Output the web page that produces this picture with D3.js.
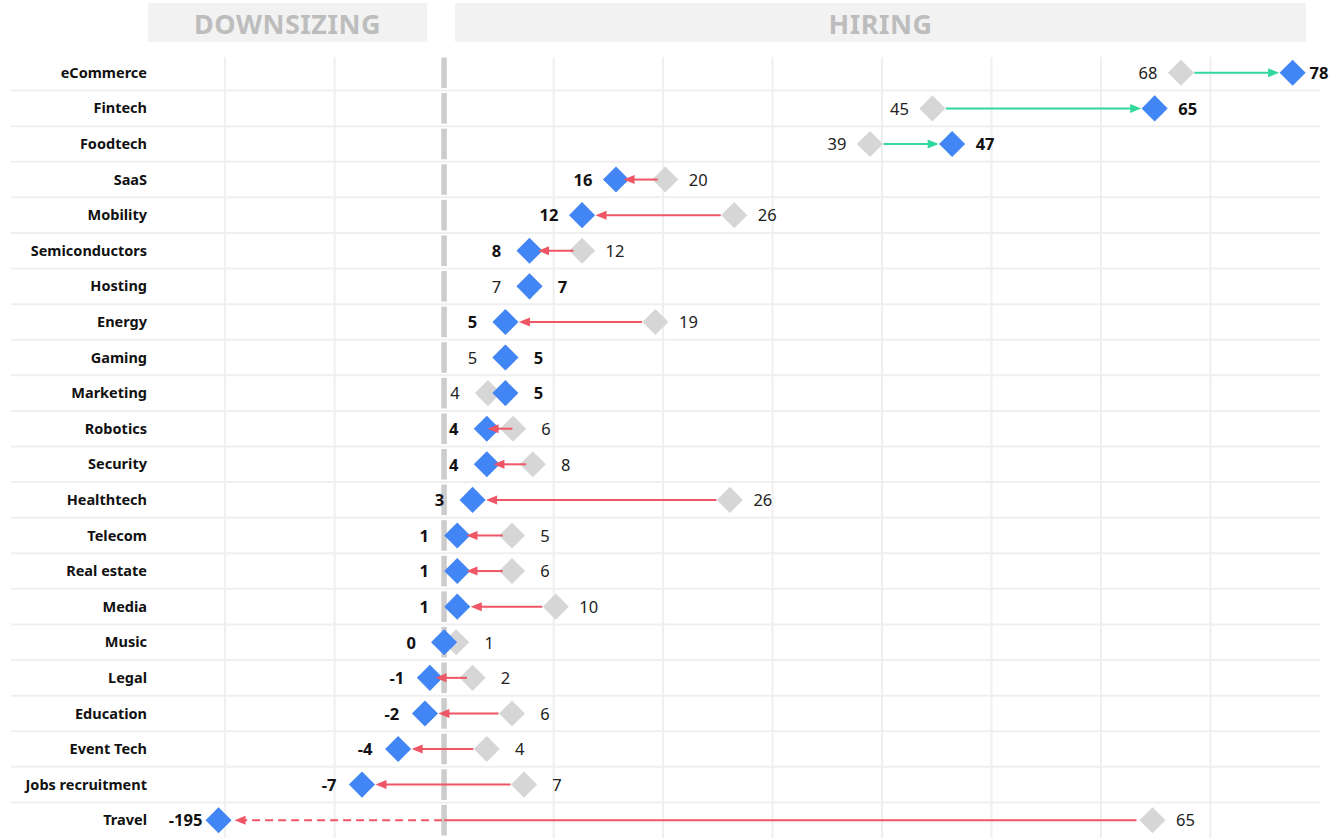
<!DOCTYPE html>
<html>
<head>
<meta charset="utf-8">
<script src="https://cdn.jsdelivr.net/npm/d3@7"></script>
<style>
    body { margin: 0; background: #fff; }
    svg { display: block; font-family: "Noto Sans", sans-serif; }
    .sep, .grid { stroke: #efefef; stroke-width: 2; }
    .zero { stroke: #cccccc; stroke-width: 5.5; }
    .cat { font-size: 14.5px; font-weight: bold; fill: #111; }
    .val { font-size: 16.5px; fill: #222; }
    .val.now { font-weight: bold; fill: #111; }
    .head-box { fill: #f2f2f2; }
    .head-text { font-size: 27px; font-weight: bold; fill: #bdbdbd; letter-spacing: 0.5px; }
</style>
</head>
<body>
<svg id="chart" width="1332" height="838"></svg>
<script>
// sectors, top to bottom
const sectors = ["eCommerce", "Fintech", "Foodtech", "SaaS", "Mobility", "Semiconductors",
    "Hosting", "Energy", "Gaming", "Marketing", "Robotics", "Security", "Healthtech",
    "Telecom", "Real estate", "Media", "Music", "Legal", "Education", "Event Tech",
    "Jobs recruitment", "Travel"];

// previous value (grey) and current value (blue)
const before = [67.3, 44.6, 38.9, 20.2, 26.5, 12.6, 7.8, 19.3, 5.6, 4.0, 6.3, 8.1,
    26.1, 6.2, 6.2, 10.2, 1.1, 2.6, 6.2, 3.9, 7.3, 64.7];
const after = [77.5, 64.9, 46.4, 15.7, 12.6, 7.8, 7.8, 5.6, 5.6, 5.6, 3.9, 3.9,
    2.6, 1.2, 1.2, 1.2, 0, -1.3, -1.75, -4.2, -7.5, -195];

// printed labels
const beforeLabels = ["68", "45", "39", "20", "26", "12", "7", "19", "5", "4", "6", "8",
    "26", "5", "6", "10", "1", "2", "6", "4", "7", "65"];
const afterLabels = ["78", "65", "47", "16", "12", "8", "7", "5", "5", "5", "4", "4",
    "3", "1", "1", "1", "0", "-1", "-2", "-4", "-7", "-195"];

const gridTicks = [-20, -10, 10, 20, 30, 40, 50, 60, 70];
const headers = ["DOWNSIZING", "HIRING"];

const BLUE = "#4285f4", GREY = "#d6d6d6", RED = "#ee5565", GREEN = "#30d89c";

/** Class for the before / after arrow chart. */
class ArrowChart {
    constructor() {
        this.svg = d3.select("#chart");
        this.x = d3.scaleLinear().domain([-27, 80]).range([148.5, 1320]);
        this.y = d3.scaleBand().domain(sectors).range([55, 838]);
        this.floor = -20.6;   // off-scale values get parked here
        this.diamond = d3.symbol(d3.symbolSquare, 340);
    }

    drawHeader() {
        let x = this.x;
        let boxes = [[148, x(0) - 17], [x(0) + 11, 1306]];
        let g = this.svg.append("g");
        g.selectAll("rect").data(boxes).join("rect")
            .attr("class", "head-box")
            .attr("x", d => d[0]).attr("y", 3)
            .attr("width", d => d[1] - d[0]).attr("height", 39);
        g.selectAll("text").data(boxes).join("text")
            .attr("class", "head-text")
            .attr("x", d => (d[0] + d[1]) / 2).attr("y", 24)
            .attr("text-anchor", "middle").attr("dy", "0.36em")
            .text((d, i) => headers[i]);
    }

    drawGrid() {
        let x = this.x, y = this.y;
        this.svg.append("g").selectAll("line").data(gridTicks).join("line")
            .attr("class", "grid")
            .attr("x1", d => x(d)).attr("x2", d => x(d))
            .attr("y1", 57).attr("y2", 838);

        // row separators
        this.svg.append("g").selectAll("line").data(sectors.slice(1)).join("line")
            .attr("class", "sep")
            .attr("x1", 11).attr("x2", 1320)
            .attr("y1", d => y(d)).attr("y2", d => y(d));

        // zero line, broken at each row
        this.svg.append("g").selectAll("line").data(sectors).join("line")
            .attr("class", "zero")
            .attr("x1", x(0)).attr("x2", x(0))
            .attr("y1", d => y(d) + 2.5).attr("y2", d => y(d) + y.bandwidth() - 2.5);

        this.svg.append("g").selectAll("text").data(sectors).join("text")
            .attr("class", "cat")
            .attr("x", 147).attr("y", d => y(d) + y.bandwidth() / 2)
            .attr("text-anchor", "end").attr("dy", "0.35em")
            .text(d => d);
    }

    arrow(g, x1, x2, cy, color, dashed) {
        let dir = x2 > x1 ? 1 : -1;
        g.append("line")
            .attr("x1", x1).attr("x2", x2 - dir * 8)
            .attr("y1", cy).attr("y2", cy)
            .attr("stroke", color).attr("stroke-width", 2)
            .attr("stroke-dasharray", dashed ? "8,5" : null);
        g.append("path")
            .attr("d", `M${x2},${cy} L${x2 - dir * 11},${cy - 4.5} L${x2 - dir * 11},${cy + 4.5} Z`)
            .attr("fill", color);
    }

    drawRows() {
        let x = this.x, y = this.y, self = this;
        let rows = sectors.map((s, i) => ({
            name: s, b: before[i], a: after[i], bl: beforeLabels[i], al: afterLabels[i]
        }));

        let g = this.svg.append("g");
        rows.forEach(function(r) {
            let cy = y(r.name) + y.bandwidth() / 2;
            let xb = x(r.b);
            let off = r.a < x.domain()[0];
            let xa = x(off ? self.floor : r.a);
            let up = r.a >= r.b;

            g.append("path")
                .attr("d", self.diamond())
                .attr("transform", `translate(${xb},${cy}) rotate(45)`)
                .attr("fill", GREY);
            g.append("path")
                .attr("d", self.diamond())
                .attr("transform", `translate(${xa},${cy}) rotate(45)`)
                .attr("fill", BLUE);

            let d = Math.abs(xa - xb);
            let color = up ? GREEN : RED;
            if (off) {
                // solid part down to zero, dashed beyond the axis
                g.append("line")
                    .attr("x1", xb - 16).attr("x2", x(0))
                    .attr("y1", cy).attr("y2", cy)
                    .attr("stroke", color).attr("stroke-width", 2);
                self.arrow(g, x(0) - 2, xa + 16, cy, color, true);
            } else if (d > 20) {
                let pad = Math.min(13.5, Math.max(0, (d - 24) * 0.3));
                let dir = up ? 1 : -1;
                self.arrow(g, xb + dir * pad, xa - dir * pad, cy, color, false);
            }

            // labels on the outside of each pair
            let lo = up ? xb : xa, hi = up ? xa : xb;
            g.append("text")
                .attr("class", up ? "val" : "val now")
                .attr("x", lo - 33).attr("y", cy).attr("dy", "0.38em")
                .attr("text-anchor", "middle")
                .text(up ? r.bl : r.al);
            g.append("text")
                .attr("class", up ? "val now" : "val")
                .attr("x", Math.min(hi + 33, 1319)).attr("y", cy).attr("dy", "0.38em")
                .attr("text-anchor", "middle")
                .text(up ? r.al : r.bl);
        });
    }
}

let chart = new ArrowChart();
chart.drawHeader();
chart.drawGrid();
chart.drawRows();
</script>
</body>
</html>
